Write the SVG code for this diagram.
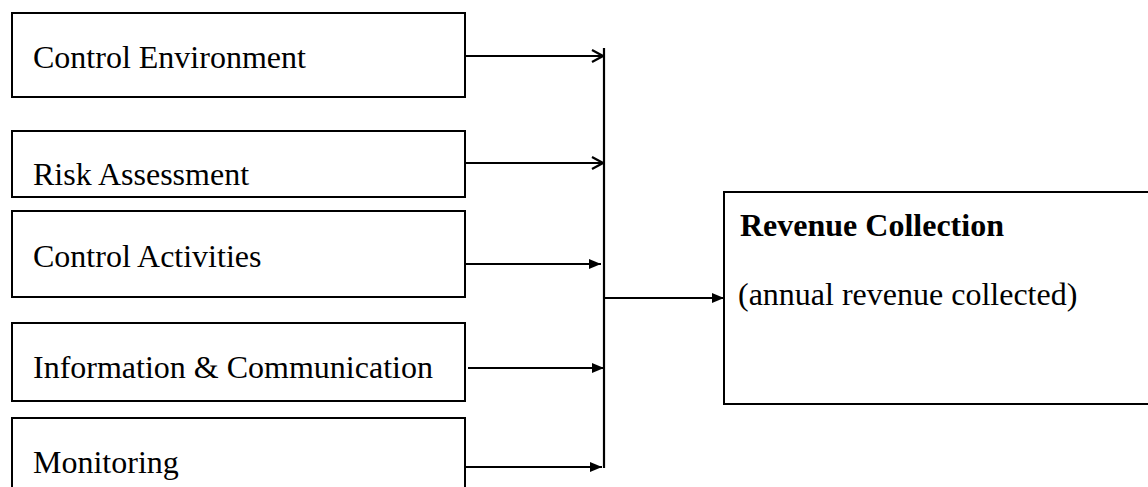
<svg xmlns="http://www.w3.org/2000/svg" width="1148" height="487" viewBox="0 0 1148 487">
<style>
.box{fill:#fff;stroke:#000;stroke-width:2}
.t{font-family:"Liberation Serif","Times New Roman",serif;font-size:32px;fill:#000}
.b{font-weight:bold}
.c{stroke:#000;stroke-width:2.2;fill:none}
</style>
<defs>
<marker id="open" markerWidth="14" markerHeight="14" refX="12" refY="7" orient="auto" markerUnits="userSpaceOnUse">
<path d="M1,1 L12,7 L1,13" fill="none" stroke="#000" stroke-width="2.2"/>
</marker>
<marker id="fill" markerWidth="13" markerHeight="11" refX="12" refY="5.5" orient="auto" markerUnits="userSpaceOnUse">
<path d="M0,0.5 L12,5.5 L0,10.5 Z" fill="#000"/>
</marker>
</defs>
<rect width="1148" height="487" fill="#fff"/>
<g id="n1"><rect class="box" x="12" y="13" width="453" height="84"/><text class="t" x="33" y="68">Control Environment</text></g>
<g id="n2"><rect class="box" x="12" y="131" width="453" height="66"/><text class="t" x="33" y="185">Risk Assessment</text></g>
<g id="n3"><rect class="box" x="12" y="211" width="453" height="86"/><text class="t" x="33" y="267">Control Activities</text></g>
<g id="n4"><rect class="box" x="12" y="323" width="453" height="78"/><text class="t" x="33" y="378">Information &amp; Communication</text></g>
<g id="n5"><rect class="box" x="12" y="418" width="453" height="90"/><text class="t" x="33" y="473">Monitoring</text></g>
<g id="n6"><rect class="box" x="724" y="192" width="440" height="212"/><text class="t b" x="740" y="236">Revenue Collection</text><text class="t" x="738" y="305">(annual revenue collected)</text></g>
<g id="connectors">
<line class="c" x1="604" y1="48" x2="604" y2="468"/>
<line class="c" x1="465" y1="56" x2="603" y2="56" marker-end="url(#open)"/>
<line class="c" x1="465" y1="163" x2="603" y2="163" marker-end="url(#open)"/>
<line class="c" x1="465" y1="264" x2="601" y2="264" marker-end="url(#fill)"/>
<line class="c" x1="468" y1="368" x2="604" y2="368" marker-end="url(#fill)"/>
<line class="c" x1="465" y1="467" x2="602" y2="467" marker-end="url(#fill)"/>
<line class="c" x1="604" y1="298" x2="724" y2="298" marker-end="url(#fill)"/>
</g>
</svg>
